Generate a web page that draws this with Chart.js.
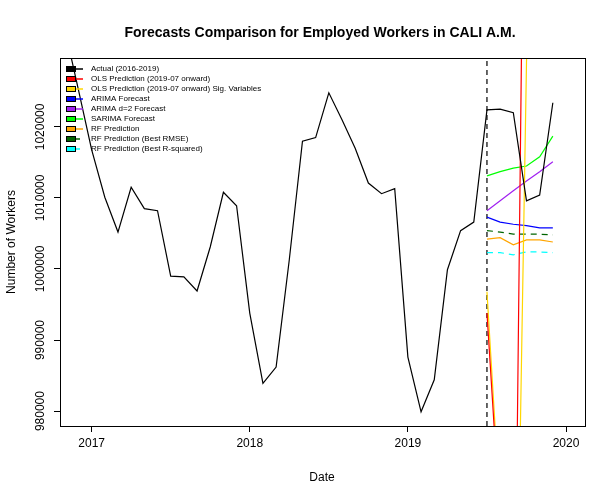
<!DOCTYPE html>
<html><head><meta charset="utf-8">
<script src="https://cdn.jsdelivr.net/npm/chart.js@4"></script>
<style>html,body{margin:0;padding:0;background:#fff}#c{display:block}</style>
</head><body>
<canvas id="c" width="600" height="500" style="width:600px;height:500px"></canvas>
<script>
const actualMonths = ["2016-11","2016-12","2017-01","2017-02","2017-03","2017-04","2017-05","2017-06","2017-07","2017-08","2017-09","2017-10","2017-11","2017-12","2018-01","2018-02","2018-03","2018-04","2018-05","2018-06","2018-07","2018-08","2018-09","2018-10","2018-11","2018-12","2019-01","2019-02","2019-03","2019-04","2019-05","2019-06","2019-07","2019-08","2019-09","2019-10","2019-11","2019-12"];
const actualValues = [1033500,1025200,1016800,1010100,1005200,1011500,1008500,1008200,999000,998900,996900,1003100,1010800,1008900,993800,983900,986200,1001300,1018000,1018500,1024800,1021000,1017000,1012100,1010600,1011300,987600,979900,984400,999900,1005400,1006600,1022400,1022500,1022000,1009600,1010400,1023400];
const forecastMonths = ["2019-07","2019-08","2019-09","2019-10","2019-11","2019-12"];
const olsValues = [993800,964500,926300,1094300,1100000,1100000];
const olsSigValues = [996800,966100,918500,1029000,1100000,1100000];
const arimaValues = [1007300,1006600,1006300,1006100,1005800,1005800];
const arimaD2Values = [1008200,1009600,1011000,1012400,1013700,1015100];
const sarimaValues = [1013100,1013700,1014200,1014500,1015800,1018700];
const rfValues = [1004200,1004400,1003400,1004100,1004100,1003800];
const rfRmseValues = [1005400,1005200,1004900,1004900,1004900,1004800];
const rfR2Values = [1002300,1002300,1002000,1002400,1002400,1002300];
const yTicks = [980000,990000,1000000,1010000,1020000];
const xTicks = [2017,2018,2019,2020];
const cutoff = "2019-07";

const toX = m => { const [y,mo] = m.split("-").map(Number); return y + (mo-1)/12; };
const pts = (ms, vs) => ms.map((m,i)=>({x:toX(m), y:vs[i]}));
const Y_MIN = 977900, Y_MAX = 1029700;

const series = [
  {label:"Actual (2016-2019)", data:pts(actualMonths,actualValues), color:"#000000", dash:[]},
  {label:"OLS Prediction (2019-07 onward)", data:pts(forecastMonths,olsValues), color:"#ff0000", dash:[]},
  {label:"OLS Prediction (2019-07 onward) Sig. Variables", data:pts(forecastMonths,olsSigValues), color:"#ffd700", dash:[]},
  {label:"ARIMA Forecast", data:pts(forecastMonths,arimaValues), color:"#0000ff", dash:[]},
  {label:"ARIMA d=2 Forecast", data:pts(forecastMonths,arimaD2Values), color:"#a020f0", dash:[]},
  {label:"SARIMA Forecast", data:pts(forecastMonths,sarimaValues), color:"#00ff00", dash:[]},
  {label:"RF Prediction", data:pts(forecastMonths,rfValues), color:"#ffa500", dash:[]},
  {label:"RF Prediction (Best RMSE)", data:pts(forecastMonths,rfRmseValues), color:"#006400", dash:[6,5]},
  {label:"RF Prediction (Best R-squared)", data:pts(forecastMonths,rfR2Values), color:"#00ffff", dash:[6,5]},
];
const datasets = series.map(s=>({label:s.label,data:s.data,borderColor:s.color,backgroundColor:s.color,borderDash:s.dash,borderWidth:1.2,pointRadius:0,tension:0,fill:false}));
datasets.push({label:"cutoff",data:[{x:toX(cutoff),y:Y_MIN},{x:toX(cutoff),y:Y_MAX}],borderColor:"#000",borderDash:[5,4],borderWidth:1.2,pointRadius:0});

const FONT = "'Liberation Sans', Arial, sans-serif";
const decor = {
  id:"decor",
  afterDraw(chart){
    const {ctx, chartArea:a, scales} = chart;
    ctx.save();
    ctx.strokeStyle="#000"; ctx.lineWidth=1;
    ctx.strokeRect(a.left+0.5,a.top+0.5,a.right-a.left,a.bottom-a.top);
    ctx.fillStyle="#000";
    ctx.font="bold 14px "+FONT; ctx.textAlign="center"; ctx.textBaseline="middle";
    ctx.fillText("Forecasts Comparison for Employed Workers in CALI A.M.", 320, 33);
    ctx.font="12px "+FONT;
    ctx.fillText("Date", 322, 478);
    yTicks.forEach(v=>{
      const y=scales.y.getPixelForValue(v);
      ctx.save(); ctx.translate(41,y); ctx.rotate(-Math.PI/2); ctx.fillText(String(v),0,0); ctx.restore();
    });
    ctx.save(); ctx.translate(12,(a.top+a.bottom)/2); ctx.rotate(-Math.PI/2); ctx.fillText("Number of Workers",0,0); ctx.restore();
    ctx.font="8px "+FONT; ctx.textAlign="left";
    series.forEach((s,i)=>{
      const y=69+i*10;
      ctx.fillStyle=s.color; ctx.fillRect(66,y-3,10,6);
      ctx.strokeStyle="#000"; ctx.lineWidth=1; ctx.strokeRect(66.5,y-2.5,9,5);
      ctx.strokeStyle=s.color; ctx.lineWidth=1.5; ctx.setLineDash(s.dash.length?[4,3]:[]);
      ctx.beginPath(); ctx.moveTo(76,y); ctx.lineTo(s.dash.length?82:83,y); ctx.stroke(); ctx.setLineDash([]);
      ctx.fillStyle="#000"; ctx.fillText(s.label,91,y);
    });
    ctx.restore();
  }
};

new Chart(document.getElementById("c"),{
  type:"line",
  data:{datasets},
  plugins:[decor],
  options:{
    responsive:false, animation:false, maintainAspectRatio:false,
    devicePixelRatio:1,
    layout:{padding:{top:58,right:15,left:0,bottom:0}},
    plugins:{legend:{display:false},tooltip:{enabled:false}},
    scales:{
      x:{type:"linear",min:2016.8,max:2020.12,
        afterBuildTicks:s=>{s.ticks=xTicks.map(v=>({value:v}));},
        afterFit:s=>{s.height=74;},
        grid:{display:true,drawOnChartArea:false,drawTicks:true,tickLength:6,color:"#000"},
        border:{display:false},
        ticks:{color:"#000",font:{family:FONT,size:12},padding:4,maxRotation:0,callback:v=>String(v)}},
      y:{type:"linear",min:Y_MIN,max:Y_MAX,
        afterBuildTicks:s=>{s.ticks=yTicks.map(v=>({value:v}));},
        afterFit:s=>{s.width=60;},
        grid:{display:true,drawOnChartArea:false,drawTicks:true,tickLength:6,color:"#000"},
        border:{display:false},
        ticks:{display:true,color:"rgba(0,0,0,0)",callback:()=>""}}
    }
  }
});
</script>
</body></html>
